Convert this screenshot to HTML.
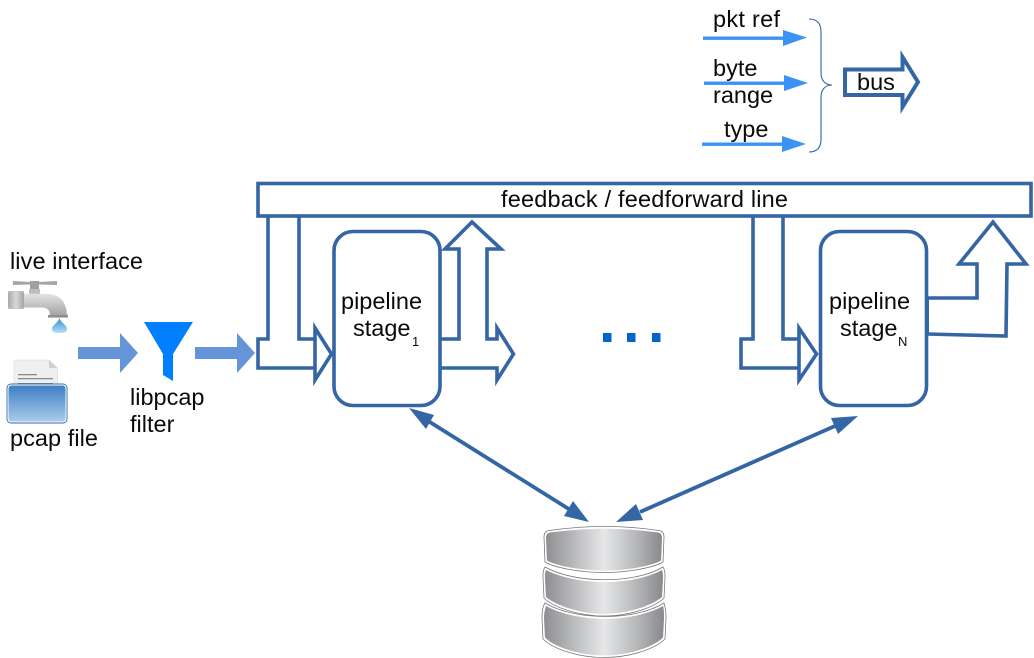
<!DOCTYPE html>
<html>
<head>
<meta charset="utf-8">
<style>
html,body{margin:0;padding:0;background:#fff;}
svg{display:block;}
text{font-family:"Liberation Sans",sans-serif;font-size:23.5px;fill:#0a0a0a;}
.b{fill:none;stroke:#3465a4;stroke-width:3.6;stroke-linejoin:miter;}
</style>
</head>
<body>
<svg width="1034" height="658" viewBox="0 0 1034 658" xmlns="http://www.w3.org/2000/svg">
<defs>
<linearGradient id="g" x1="0" x2="1" y1="0" y2="0">
<stop offset="0" stop-color="#8e8f92"/>
<stop offset="0.5" stop-color="#e6e7e8"/>
<stop offset="0.78" stop-color="#b5b6b8"/>
<stop offset="1" stop-color="#88898c"/>
</linearGradient>
<linearGradient id="fold" x1="0" x2="0" y1="0" y2="1">
<stop offset="0" stop-color="#3f7fc4"/>
<stop offset="1" stop-color="#a9cbea"/>
</linearGradient>
<linearGradient id="tap" x1="0" x2="0" y1="0" y2="1">
<stop offset="0" stop-color="#e4e4e4"/>
<stop offset="1" stop-color="#a2a2a2"/>
</linearGradient>
<linearGradient id="cap" x1="0" x2="1" y1="0" y2="0">
<stop offset="0" stop-color="#a8a8a8"/>
<stop offset="0.5" stop-color="#d8d8d8"/>
<stop offset="1" stop-color="#a4a4a4"/>
</linearGradient>
<linearGradient id="drop" x1="0" x2="0" y1="0" y2="1">
<stop offset="0" stop-color="#2f8fd8"/>
<stop offset="1" stop-color="#b5e0f5"/>
</linearGradient>
</defs>

<!-- legend -->
<g fill="#3b94f5" stroke="none">
<rect x="703" y="36.5" width="82" height="3.4"/><polygon points="783,30 807,37.5 783,46"/>
<rect x="704" y="81.5" width="82" height="3.4"/><polygon points="784,75 808,83 784,91"/>
<rect x="702" y="142.5" width="82" height="3.4"/><polygon points="782,136 806,144 782,152"/>
</g>
<path d="M809,19 C817,19 821,23 821,32 L821,73 C821,80 825,85 832,85 C825,85 821,90 821,97 L821,139 C821,148 817,152 809,152" fill="none" stroke="#3465a4" stroke-width="1.1"/>
<polygon class="b" style="stroke-width:4" points="845,69.5 902.5,69.5 902.5,57 918,82 902.5,107 902.5,95 845,95"/>
<text x="713" y="27" textLength="67">pkt ref</text>
<text x="713" y="76">byte</text>
<text x="713" y="103">range</text>
<text x="724" y="137">type</text>
<text x="857" y="90">bus</text>

<!-- feedback line -->
<rect x="258" y="183.5" width="773" height="32.5" fill="#fff" stroke="#3465a4" stroke-width="3.6"/>
<text x="501" y="207" textLength="287">feedback / feedforward line</text>

<!-- stage 1 arrows -->
<polyline class="b" points="268,216 268,339 258,339 258,368 315,368 315,328 331.5,354 315,380 315,368"/>
<polyline class="b" points="299,216 299,339 315,339"/>
<polyline class="b" points="440,339 459,339 459,249 445,249 472,222 501,249 487,249 487,339 497,339 497,328 513.5,354 497,380 497,368 440,368"/>
<rect x="334" y="231.5" width="106" height="174" rx="19" ry="19" fill="#fff" stroke="#3465a4" stroke-width="3.6"/>
<text x="341" y="309">pipeline</text>
<text x="353" y="336">stage</text>
<text x="412" y="346" style="font-size:13px">1</text>

<!-- dots -->
<g fill="#0066cc">
<rect x="603" y="333" width="8.5" height="9"/>
<rect x="627" y="333" width="8.5" height="9"/>
<rect x="652" y="333" width="8.5" height="9"/>
</g>

<!-- stage N arrows -->
<polyline class="b" points="753,216 753,339 741,339 741,368 799,368 799,328 816.5,354 799,380 799,368"/>
<polyline class="b" points="783,216 783,339 799,339"/>
<polyline class="b" points="927,298 977,298 977,264 959,264 993,222 1026,264 1007,264 1006,336 927,334"/>
<rect x="820.5" y="231.5" width="106" height="174" rx="19" ry="19" fill="none" stroke="#3465a4" stroke-width="3.6"/>
<line x1="928" y1="298" x2="928" y2="334" stroke="#3465a4" stroke-width="2"/>
<text x="829" y="309">pipeline</text>
<text x="840" y="336">stage</text>
<text x="898" y="346" style="font-size:13px">N</text>

<!-- double arrows -->
<line x1="425" y1="419" x2="572" y2="511" stroke="#3465a4" stroke-width="3.8"/>
<polygon points="409,408 434,415 426,429" fill="#3465a4"/>
<polygon points="589,522 573,501 564,516" fill="#3465a4"/>
<line x1="835" y1="426" x2="640" y2="512" stroke="#3465a4" stroke-width="3.8"/>
<polygon points="858,416 831,418 838,434" fill="#3465a4"/>
<polygon points="616,522 636,504 643,520" fill="#3465a4"/>

<!-- left flow arrows -->
<polygon points="78,347 120,347 120,333 138,353 120,373 120,359 78,359" fill="#6495d8"/>
<polygon points="195,347 237,347 237,333 255,353 237,373 237,359 195,359" fill="#6495d8"/>
<polygon points="144,322 193,322 173,354 173,381 163,375 163,354" fill="#0080ff"/>

<!-- faucet -->
<g>
<path d="M13,281 L30,282 L39,282 L57,281 L57,285 L39,284.5 L30,284.5 L13,285 Z" fill="#a4a4a4"/>
<rect x="30" y="281" width="9" height="9" fill="#a0a0a0"/>
<rect x="29" y="289" width="11" height="5" fill="#bdbdbd"/>
<path d="M23,293.5 L48,294 C61,295 67,303 67,316 L50,316 C50,310 47,307.5 42,307.5 L23,307.5 Z" fill="url(#tap)"/>
<rect x="8" y="291" width="16" height="18" rx="2" fill="url(#cap)"/>
<rect x="48" y="315" width="20" height="2.6" fill="#8f8f8f"/>
<path d="M59.5,318 C61,323 67,325 67,329 C67,333 62,333 59.5,333 C57,333 52,333 52,329 C52,325 58,323 59.5,318 Z" fill="url(#drop)"/>
</g>

<!-- folder -->
<g>
<path d="M14,360 L49,360 L57.5,368 L57.5,388 L14,388 Z" fill="#efefef" stroke="#dcdcdc" stroke-width="0.6"/>
<path d="M49,360 L49,368 L57.5,368 Z" fill="#cfcfcf"/>
<rect x="18" y="374" width="19" height="1.3" fill="#8a8a8a"/>
<rect x="18" y="378" width="35" height="1.3" fill="#8a8a8a"/>
<rect x="18" y="383" width="35" height="1.3" fill="#8a8a8a"/>
<rect x="7" y="384" width="60" height="39" rx="4" ry="4" fill="#fff" stroke="#2f6aa8" stroke-width="0.9"/>
<rect x="8.5" y="385.5" width="57" height="36" rx="3" ry="3" fill="url(#fold)"/>
</g>
<text x="10" y="269" textLength="133">live interface</text>
<text x="10" y="446" textLength="88">pcap file</text>
<text x="130" y="405">libpcap</text>
<text x="130" y="432">filter</text>

<!-- database -->
<g stroke="#77787b" stroke-width="0.8">
<path d="M542,618 C542,610 543,606 545,603 C575,621 635,621 664,603 C665,606 666,610 666,618 L665,639 C655,649 630,657.5 604,657.5 C578,657.5 553,649 543,639 Z" fill="#fff"/>
<path d="M544,619 C544,613 545,609 546,606 C578,623 632,623 663,606 C664,609 664,613 664,619 L663,637.5 C654,647 628,655.5 604,655.5 C580,655.5 554,647 545,637.5 Z" fill="url(#g)" stroke="none"/>
<path d="M543,578 C543,573 543,570 545,567 C575,584 635,584 663,567 C665,570 665,573 665,578 L664,598 C655,607 630,616 604,616 C578,616 553,607 544,598 Z" fill="#fff"/>
<path d="M545,579 C545,575 545,572 546,570 C578,586 632,586 662,570 C663,572 663,575 663,579 L662,597 C653,605 628,614 604,614 C580,614 555,605 546,597 Z" fill="url(#g)" stroke="none"/>
<path d="M544,537 C544,533 546,531 549,530.5 C590,525 620,525 659,530.5 C662,531 664,533 664,537 L663,562 C655,567 630,572.5 604,572.5 C578,572.5 553,567 545,562 Z" fill="#fff"/>
<path d="M546,538 C546,535 547,533 550,532.5 C590,527.5 620,527.5 658,532.5 C661,533 662,535 662,538 L661,560.5 C653,565.5 628,570.5 604,570.5 C580,570.5 555,565.5 547,560.5 Z" fill="url(#g)" stroke="none"/>
</g>
</svg>
</body>
</html>
